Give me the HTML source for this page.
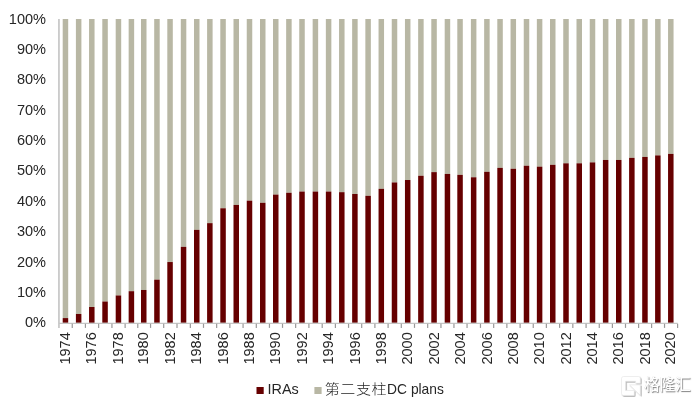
<!DOCTYPE html>
<html><head><meta charset="utf-8"><style>
html,body{margin:0;padding:0;background:#fff;}
body{width:696px;height:403px;overflow:hidden;position:relative;}
svg{position:absolute;left:0;top:0;will-change:transform;}
.t{font-family:"Liberation Sans",Arial,sans-serif;font-size:14.67px;fill:#262626;}
.wm{position:absolute;left:644.2px;top:374.8px;font-family:"Liberation Sans","Noto Sans CJK SC",sans-serif;font-weight:500;font-size:15.5px;line-height:20px;color:#fff;text-shadow:0.8px 0.8px 1px rgba(0,0,0,0.5),-0.3px -0.3px 0.6px rgba(0,0,0,0.15);white-space:nowrap;}
</style></head><body>
<svg width="696" height="403" viewBox="0 0 696 403">
<rect x="62.70" y="19.00" width="5.50" height="299.09" fill="#b8b7a4"/>
<rect x="62.70" y="318.09" width="5.50" height="4.71" fill="#660000"/>
<rect x="75.90" y="19.00" width="5.50" height="294.99" fill="#b8b7a4"/>
<rect x="75.90" y="313.99" width="5.50" height="8.81" fill="#660000"/>
<rect x="89.05" y="19.00" width="5.50" height="288.00" fill="#b8b7a4"/>
<rect x="89.05" y="307.00" width="5.50" height="15.80" fill="#660000"/>
<rect x="102.30" y="19.00" width="5.50" height="282.53" fill="#b8b7a4"/>
<rect x="102.30" y="301.53" width="5.50" height="21.27" fill="#660000"/>
<rect x="115.70" y="19.00" width="5.50" height="276.46" fill="#b8b7a4"/>
<rect x="115.70" y="295.46" width="5.50" height="27.34" fill="#660000"/>
<rect x="128.65" y="19.00" width="5.50" height="272.20" fill="#b8b7a4"/>
<rect x="128.65" y="291.20" width="5.50" height="31.60" fill="#660000"/>
<rect x="141.00" y="19.00" width="5.50" height="270.99" fill="#b8b7a4"/>
<rect x="141.00" y="289.99" width="5.50" height="32.81" fill="#660000"/>
<rect x="154.20" y="19.00" width="5.50" height="260.66" fill="#b8b7a4"/>
<rect x="154.20" y="279.66" width="5.50" height="43.14" fill="#660000"/>
<rect x="167.30" y="19.00" width="5.50" height="243.04" fill="#b8b7a4"/>
<rect x="167.30" y="262.04" width="5.50" height="60.76" fill="#660000"/>
<rect x="180.80" y="19.00" width="5.50" height="227.85" fill="#b8b7a4"/>
<rect x="180.80" y="246.85" width="5.50" height="75.95" fill="#660000"/>
<rect x="194.00" y="19.00" width="5.50" height="210.84" fill="#b8b7a4"/>
<rect x="194.00" y="229.84" width="5.50" height="92.96" fill="#660000"/>
<rect x="207.10" y="19.00" width="5.50" height="204.15" fill="#b8b7a4"/>
<rect x="207.10" y="223.15" width="5.50" height="99.65" fill="#660000"/>
<rect x="220.30" y="19.00" width="5.50" height="189.27" fill="#b8b7a4"/>
<rect x="220.30" y="208.27" width="5.50" height="114.53" fill="#660000"/>
<rect x="233.50" y="19.00" width="5.50" height="185.93" fill="#b8b7a4"/>
<rect x="233.50" y="204.93" width="5.50" height="117.87" fill="#660000"/>
<rect x="246.75" y="19.00" width="5.50" height="181.67" fill="#b8b7a4"/>
<rect x="246.75" y="200.67" width="5.50" height="122.13" fill="#660000"/>
<rect x="260.00" y="19.00" width="5.50" height="183.80" fill="#b8b7a4"/>
<rect x="260.00" y="202.80" width="5.50" height="120.00" fill="#660000"/>
<rect x="273.00" y="19.00" width="5.50" height="175.60" fill="#b8b7a4"/>
<rect x="273.00" y="194.60" width="5.50" height="128.20" fill="#660000"/>
<rect x="286.15" y="19.00" width="5.50" height="173.77" fill="#b8b7a4"/>
<rect x="286.15" y="192.77" width="5.50" height="130.03" fill="#660000"/>
<rect x="299.25" y="19.00" width="5.50" height="172.56" fill="#b8b7a4"/>
<rect x="299.25" y="191.56" width="5.50" height="131.24" fill="#660000"/>
<rect x="312.65" y="19.00" width="5.50" height="172.56" fill="#b8b7a4"/>
<rect x="312.65" y="191.56" width="5.50" height="131.24" fill="#660000"/>
<rect x="325.85" y="19.00" width="5.50" height="172.56" fill="#b8b7a4"/>
<rect x="325.85" y="191.56" width="5.50" height="131.24" fill="#660000"/>
<rect x="339.05" y="19.00" width="5.50" height="173.17" fill="#b8b7a4"/>
<rect x="339.05" y="192.17" width="5.50" height="130.63" fill="#660000"/>
<rect x="352.15" y="19.00" width="5.50" height="174.99" fill="#b8b7a4"/>
<rect x="352.15" y="193.99" width="5.50" height="128.81" fill="#660000"/>
<rect x="365.35" y="19.00" width="5.50" height="176.81" fill="#b8b7a4"/>
<rect x="365.35" y="195.81" width="5.50" height="126.99" fill="#660000"/>
<rect x="378.55" y="19.00" width="5.50" height="169.82" fill="#b8b7a4"/>
<rect x="378.55" y="188.82" width="5.50" height="133.98" fill="#660000"/>
<rect x="391.75" y="19.00" width="5.50" height="163.44" fill="#b8b7a4"/>
<rect x="391.75" y="182.44" width="5.50" height="140.36" fill="#660000"/>
<rect x="404.95" y="19.00" width="5.50" height="161.01" fill="#b8b7a4"/>
<rect x="404.95" y="180.01" width="5.50" height="142.79" fill="#660000"/>
<rect x="418.15" y="19.00" width="5.50" height="156.76" fill="#b8b7a4"/>
<rect x="418.15" y="175.76" width="5.50" height="147.04" fill="#660000"/>
<rect x="431.30" y="19.00" width="5.50" height="153.12" fill="#b8b7a4"/>
<rect x="431.30" y="172.12" width="5.50" height="150.68" fill="#660000"/>
<rect x="444.70" y="19.00" width="5.50" height="154.94" fill="#b8b7a4"/>
<rect x="444.70" y="173.94" width="5.50" height="148.86" fill="#660000"/>
<rect x="457.30" y="19.00" width="5.50" height="155.85" fill="#b8b7a4"/>
<rect x="457.30" y="174.85" width="5.50" height="147.95" fill="#660000"/>
<rect x="470.90" y="19.00" width="5.50" height="158.28" fill="#b8b7a4"/>
<rect x="470.90" y="177.28" width="5.50" height="145.52" fill="#660000"/>
<rect x="484.15" y="19.00" width="5.50" height="152.81" fill="#b8b7a4"/>
<rect x="484.15" y="171.81" width="5.50" height="150.99" fill="#660000"/>
<rect x="497.30" y="19.00" width="5.50" height="148.86" fill="#b8b7a4"/>
<rect x="497.30" y="167.86" width="5.50" height="154.94" fill="#660000"/>
<rect x="510.55" y="19.00" width="5.50" height="149.77" fill="#b8b7a4"/>
<rect x="510.55" y="168.77" width="5.50" height="154.03" fill="#660000"/>
<rect x="523.75" y="19.00" width="5.50" height="146.74" fill="#b8b7a4"/>
<rect x="523.75" y="165.74" width="5.50" height="157.06" fill="#660000"/>
<rect x="536.85" y="19.00" width="5.50" height="147.65" fill="#b8b7a4"/>
<rect x="536.85" y="166.65" width="5.50" height="156.15" fill="#660000"/>
<rect x="550.00" y="19.00" width="5.50" height="145.82" fill="#b8b7a4"/>
<rect x="550.00" y="164.82" width="5.50" height="157.98" fill="#660000"/>
<rect x="563.25" y="19.00" width="5.50" height="144.31" fill="#b8b7a4"/>
<rect x="563.25" y="163.31" width="5.50" height="159.50" fill="#660000"/>
<rect x="576.50" y="19.00" width="5.50" height="144.31" fill="#b8b7a4"/>
<rect x="576.50" y="163.31" width="5.50" height="159.50" fill="#660000"/>
<rect x="589.75" y="19.00" width="5.50" height="143.39" fill="#b8b7a4"/>
<rect x="589.75" y="162.39" width="5.50" height="160.41" fill="#660000"/>
<rect x="602.90" y="19.00" width="5.50" height="140.96" fill="#b8b7a4"/>
<rect x="602.90" y="159.96" width="5.50" height="162.84" fill="#660000"/>
<rect x="616.00" y="19.00" width="5.50" height="140.96" fill="#b8b7a4"/>
<rect x="616.00" y="159.96" width="5.50" height="162.84" fill="#660000"/>
<rect x="629.10" y="19.00" width="5.50" height="138.84" fill="#b8b7a4"/>
<rect x="629.10" y="157.84" width="5.50" height="164.96" fill="#660000"/>
<rect x="642.20" y="19.00" width="5.50" height="137.93" fill="#b8b7a4"/>
<rect x="642.20" y="156.93" width="5.50" height="165.87" fill="#660000"/>
<rect x="655.10" y="19.00" width="5.50" height="136.41" fill="#b8b7a4"/>
<rect x="655.10" y="155.41" width="5.50" height="167.39" fill="#660000"/>
<rect x="668.05" y="19.00" width="5.50" height="134.89" fill="#b8b7a4"/>
<rect x="668.05" y="153.89" width="5.50" height="168.91" fill="#660000"/>
<line x1="58.95" y1="19.0" x2="58.95" y2="328" stroke="#bfbfbf" stroke-width="1.5"/>
<line x1="58.95" y1="323.4" x2="677.69" y2="323.4" stroke="#c6c6c6" stroke-width="1.2"/>
<line x1="72.25" y1="323.79999999999995" x2="72.25" y2="327.9" stroke="#999" stroke-width="1.2"/>
<line x1="85.42" y1="323.79999999999995" x2="85.42" y2="327.9" stroke="#999" stroke-width="1.2"/>
<line x1="98.62" y1="323.79999999999995" x2="98.62" y2="327.9" stroke="#999" stroke-width="1.2"/>
<line x1="111.95" y1="323.79999999999995" x2="111.95" y2="327.9" stroke="#999" stroke-width="1.2"/>
<line x1="125.13" y1="323.79999999999995" x2="125.13" y2="327.9" stroke="#999" stroke-width="1.2"/>
<line x1="137.77" y1="323.79999999999995" x2="137.77" y2="327.9" stroke="#999" stroke-width="1.2"/>
<line x1="150.55" y1="323.79999999999995" x2="150.55" y2="327.9" stroke="#999" stroke-width="1.2"/>
<line x1="163.70" y1="323.79999999999995" x2="163.70" y2="327.9" stroke="#999" stroke-width="1.2"/>
<line x1="177.00" y1="323.79999999999995" x2="177.00" y2="327.9" stroke="#999" stroke-width="1.2"/>
<line x1="190.35" y1="323.79999999999995" x2="190.35" y2="327.9" stroke="#999" stroke-width="1.2"/>
<line x1="203.50" y1="323.79999999999995" x2="203.50" y2="327.9" stroke="#999" stroke-width="1.2"/>
<line x1="216.65" y1="323.79999999999995" x2="216.65" y2="327.9" stroke="#999" stroke-width="1.2"/>
<line x1="229.85" y1="323.79999999999995" x2="229.85" y2="327.9" stroke="#999" stroke-width="1.2"/>
<line x1="243.07" y1="323.79999999999995" x2="243.07" y2="327.9" stroke="#999" stroke-width="1.2"/>
<line x1="256.32" y1="323.79999999999995" x2="256.32" y2="327.9" stroke="#999" stroke-width="1.2"/>
<line x1="269.45" y1="323.79999999999995" x2="269.45" y2="327.9" stroke="#999" stroke-width="1.2"/>
<line x1="282.52" y1="323.79999999999995" x2="282.52" y2="327.9" stroke="#999" stroke-width="1.2"/>
<line x1="295.65" y1="323.79999999999995" x2="295.65" y2="327.9" stroke="#999" stroke-width="1.2"/>
<line x1="308.90" y1="323.79999999999995" x2="308.90" y2="327.9" stroke="#999" stroke-width="1.2"/>
<line x1="322.20" y1="323.79999999999995" x2="322.20" y2="327.9" stroke="#999" stroke-width="1.2"/>
<line x1="335.40" y1="323.79999999999995" x2="335.40" y2="327.9" stroke="#999" stroke-width="1.2"/>
<line x1="348.55" y1="323.79999999999995" x2="348.55" y2="327.9" stroke="#999" stroke-width="1.2"/>
<line x1="361.70" y1="323.79999999999995" x2="361.70" y2="327.9" stroke="#999" stroke-width="1.2"/>
<line x1="374.90" y1="323.79999999999995" x2="374.90" y2="327.9" stroke="#999" stroke-width="1.2"/>
<line x1="388.10" y1="323.79999999999995" x2="388.10" y2="327.9" stroke="#999" stroke-width="1.2"/>
<line x1="401.30" y1="323.79999999999995" x2="401.30" y2="327.9" stroke="#999" stroke-width="1.2"/>
<line x1="414.50" y1="323.79999999999995" x2="414.50" y2="327.9" stroke="#999" stroke-width="1.2"/>
<line x1="427.68" y1="323.79999999999995" x2="427.68" y2="327.9" stroke="#999" stroke-width="1.2"/>
<line x1="440.95" y1="323.79999999999995" x2="440.95" y2="327.9" stroke="#999" stroke-width="1.2"/>
<line x1="453.95" y1="323.79999999999995" x2="453.95" y2="327.9" stroke="#999" stroke-width="1.2"/>
<line x1="467.05" y1="323.79999999999995" x2="467.05" y2="327.9" stroke="#999" stroke-width="1.2"/>
<line x1="480.47" y1="323.79999999999995" x2="480.47" y2="327.9" stroke="#999" stroke-width="1.2"/>
<line x1="493.68" y1="323.79999999999995" x2="493.68" y2="327.9" stroke="#999" stroke-width="1.2"/>
<line x1="506.87" y1="323.79999999999995" x2="506.87" y2="327.9" stroke="#999" stroke-width="1.2"/>
<line x1="520.10" y1="323.79999999999995" x2="520.10" y2="327.9" stroke="#999" stroke-width="1.2"/>
<line x1="533.25" y1="323.79999999999995" x2="533.25" y2="327.9" stroke="#999" stroke-width="1.2"/>
<line x1="546.38" y1="323.79999999999995" x2="546.38" y2="327.9" stroke="#999" stroke-width="1.2"/>
<line x1="559.58" y1="323.79999999999995" x2="559.58" y2="327.9" stroke="#999" stroke-width="1.2"/>
<line x1="572.83" y1="323.79999999999995" x2="572.83" y2="327.9" stroke="#999" stroke-width="1.2"/>
<line x1="586.08" y1="323.79999999999995" x2="586.08" y2="327.9" stroke="#999" stroke-width="1.2"/>
<line x1="599.28" y1="323.79999999999995" x2="599.28" y2="327.9" stroke="#999" stroke-width="1.2"/>
<line x1="612.40" y1="323.79999999999995" x2="612.40" y2="327.9" stroke="#999" stroke-width="1.2"/>
<line x1="625.50" y1="323.79999999999995" x2="625.50" y2="327.9" stroke="#999" stroke-width="1.2"/>
<line x1="638.60" y1="323.79999999999995" x2="638.60" y2="327.9" stroke="#999" stroke-width="1.2"/>
<line x1="651.60" y1="323.79999999999995" x2="651.60" y2="327.9" stroke="#999" stroke-width="1.2"/>
<line x1="664.53" y1="323.79999999999995" x2="664.53" y2="327.9" stroke="#999" stroke-width="1.2"/>
<line x1="677.60" y1="323.79999999999995" x2="677.60" y2="327.9" stroke="#999" stroke-width="1.2"/>
<text transform="translate(46.0 327.30) scale(0.945 1)" text-anchor="end" class="t" style="font-size:15.4px">0%</text>
<text transform="translate(46.0 296.92) scale(0.945 1)" text-anchor="end" class="t" style="font-size:15.4px">10%</text>
<text transform="translate(46.0 266.54) scale(0.945 1)" text-anchor="end" class="t" style="font-size:15.4px">20%</text>
<text transform="translate(46.0 236.16) scale(0.945 1)" text-anchor="end" class="t" style="font-size:15.4px">30%</text>
<text transform="translate(46.0 205.78) scale(0.945 1)" text-anchor="end" class="t" style="font-size:15.4px">40%</text>
<text transform="translate(46.0 175.40) scale(0.945 1)" text-anchor="end" class="t" style="font-size:15.4px">50%</text>
<text transform="translate(46.0 145.02) scale(0.945 1)" text-anchor="end" class="t" style="font-size:15.4px">60%</text>
<text transform="translate(46.0 114.64) scale(0.945 1)" text-anchor="end" class="t" style="font-size:15.4px">70%</text>
<text transform="translate(46.0 84.26) scale(0.945 1)" text-anchor="end" class="t" style="font-size:15.4px">80%</text>
<text transform="translate(46.0 53.88) scale(0.945 1)" text-anchor="end" class="t" style="font-size:15.4px">90%</text>
<text transform="translate(46.0 23.50) scale(0.945 1)" text-anchor="end" class="t" style="font-size:15.4px">100%</text>
<text transform="translate(70.05 332.3) rotate(-90) scale(0.94 1)" text-anchor="end" class="t" style="font-size:15.4px">1974</text>
<text transform="translate(96.40 332.3) rotate(-90) scale(0.94 1)" text-anchor="end" class="t" style="font-size:15.4px">1976</text>
<text transform="translate(123.05 332.3) rotate(-90) scale(0.94 1)" text-anchor="end" class="t" style="font-size:15.4px">1978</text>
<text transform="translate(148.35 332.3) rotate(-90) scale(0.94 1)" text-anchor="end" class="t" style="font-size:15.4px">1980</text>
<text transform="translate(174.65 332.3) rotate(-90) scale(0.94 1)" text-anchor="end" class="t" style="font-size:15.4px">1982</text>
<text transform="translate(201.35 332.3) rotate(-90) scale(0.94 1)" text-anchor="end" class="t" style="font-size:15.4px">1984</text>
<text transform="translate(227.65 332.3) rotate(-90) scale(0.94 1)" text-anchor="end" class="t" style="font-size:15.4px">1986</text>
<text transform="translate(254.10 332.3) rotate(-90) scale(0.94 1)" text-anchor="end" class="t" style="font-size:15.4px">1988</text>
<text transform="translate(280.35 332.3) rotate(-90) scale(0.94 1)" text-anchor="end" class="t" style="font-size:15.4px">1990</text>
<text transform="translate(306.60 332.3) rotate(-90) scale(0.94 1)" text-anchor="end" class="t" style="font-size:15.4px">1992</text>
<text transform="translate(333.20 332.3) rotate(-90) scale(0.94 1)" text-anchor="end" class="t" style="font-size:15.4px">1994</text>
<text transform="translate(359.50 332.3) rotate(-90) scale(0.94 1)" text-anchor="end" class="t" style="font-size:15.4px">1996</text>
<text transform="translate(385.90 332.3) rotate(-90) scale(0.94 1)" text-anchor="end" class="t" style="font-size:15.4px">1998</text>
<text transform="translate(412.30 332.3) rotate(-90) scale(0.94 1)" text-anchor="end" class="t" style="font-size:15.4px">2000</text>
<text transform="translate(438.65 332.3) rotate(-90) scale(0.94 1)" text-anchor="end" class="t" style="font-size:15.4px">2002</text>
<text transform="translate(464.65 332.3) rotate(-90) scale(0.94 1)" text-anchor="end" class="t" style="font-size:15.4px">2004</text>
<text transform="translate(491.50 332.3) rotate(-90) scale(0.94 1)" text-anchor="end" class="t" style="font-size:15.4px">2006</text>
<text transform="translate(517.90 332.3) rotate(-90) scale(0.94 1)" text-anchor="end" class="t" style="font-size:15.4px">2008</text>
<text transform="translate(544.20 332.3) rotate(-90) scale(0.94 1)" text-anchor="end" class="t" style="font-size:15.4px">2010</text>
<text transform="translate(570.60 332.3) rotate(-90) scale(0.94 1)" text-anchor="end" class="t" style="font-size:15.4px">2012</text>
<text transform="translate(597.10 332.3) rotate(-90) scale(0.94 1)" text-anchor="end" class="t" style="font-size:15.4px">2014</text>
<text transform="translate(623.35 332.3) rotate(-90) scale(0.94 1)" text-anchor="end" class="t" style="font-size:15.4px">2016</text>
<text transform="translate(649.55 332.3) rotate(-90) scale(0.94 1)" text-anchor="end" class="t" style="font-size:15.4px">2018</text>
<text transform="translate(675.40 332.3) rotate(-90) scale(0.94 1)" text-anchor="end" class="t" style="font-size:15.4px">2020</text>
<rect x="256.5" y="387" width="7.2" height="7" fill="#660000"/>
<rect x="314.4" y="387" width="7.2" height="7" fill="#b8b7a4"/>
<text x="267.5" y="394.3" class="t" style="font-size:14.4px;stroke-width:0">IRAs</text>
<text transform="translate(0 394.1) scale(1 0.92)" x="324.8 340.3 355.9 371.4" y="0" style="font-family:&quot;Liberation Sans&quot;,&quot;Noto Sans CJK SC&quot;,sans-serif;font-size:15px;font-weight:300;fill:#1e1e1e">第二支柱</text>
<text transform="translate(387.1 394.1) scale(0.973 1)" class="t" style="font-size:14.2px">DC plans</text>
<defs><filter id="sh" x="-20%" y="-20%" width="140%" height="140%"><feDropShadow dx="0.8" dy="0.8" stdDeviation="0.7" flood-color="#000" flood-opacity="0.45"/></filter></defs>
<g filter="url(#sh)" fill="#fff" stroke="#e0e0e0" stroke-width="0.5"><path d="M623.5,376.5 H638.3 Q640.3,376.5 640.3,378.5 V383.3 H635.6 V381.3 H625.6 V390.5 H634.2 V395.4 H623.5 Q621.5,395.4 621.5,393.4 V378.5 Q621.5,376.5 623.5,376.5 Z"/><path d="M629.6,384.9 H640.3 V395.4 Z"/></g>
</svg>
<div class="wm">格隆汇</div>
</body></html>
